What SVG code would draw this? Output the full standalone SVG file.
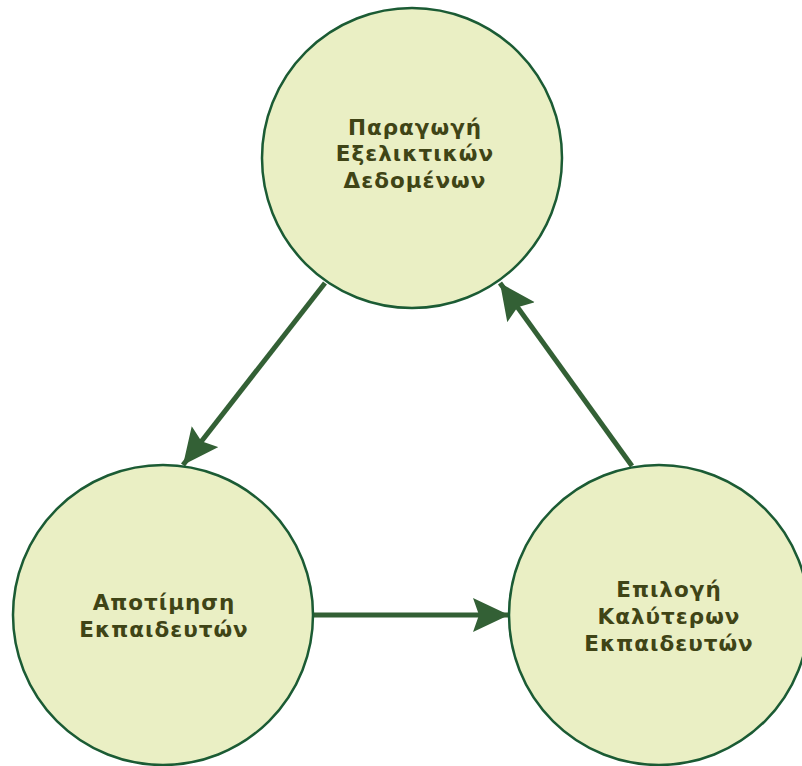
<svg xmlns="http://www.w3.org/2000/svg" width="802" height="766" viewBox="0 0 802 766">
  <style>
    .node circle { fill: #eaefc4; stroke: #1b5b34; stroke-width: 2.5; }
    .node text { font-family: "DejaVu Sans", "Noto Sans", sans-serif; font-weight: bold; font-size: 21.5px; fill: #3f4416; text-anchor: middle; letter-spacing: 1px; }
    .edge { stroke: #336035; stroke-width: 5; fill: none; marker-end: url(#arrow); }
  </style>
  <defs>
    <marker id="arrow" markerUnits="userSpaceOnUse" markerWidth="40" markerHeight="40" refX="36" refY="17" orient="auto">
      <path d="M0,0 L36,17 L0,34 L6,17 Z" fill="#336035"/>
    </marker>
  </defs>
  <rect width="802" height="766" fill="#ffffff"/>
  <g id="connectors">
    <line class="edge" x1="325" y1="283" x2="183" y2="465"/>
    <line class="edge" x1="314" y1="615" x2="509" y2="615"/>
    <line class="edge" x1="632" y1="466" x2="500" y2="283"/>
  </g>
  <g id="node-generate" class="node">
    <circle cx="412" cy="158" r="150"/>
    <text x="415" y="135">Παραγωγή</text>
    <text x="415" y="161">Εξελικτικών</text>
    <text x="415" y="188">Δεδομένων</text>
  </g>
  <g id="node-evaluate" class="node">
    <circle cx="163" cy="615" r="150"/>
    <text x="164" y="610">Αποτίμηση</text>
    <text x="164" y="637">Εκπαιδευτών</text>
  </g>
  <g id="node-select" class="node">
    <circle cx="659" cy="615" r="150"/>
    <text x="669" y="597">Επιλογή</text>
    <text x="669" y="624">Καλύτερων</text>
    <text x="669" y="651">Εκπαιδευτών</text>
  </g>
</svg>
